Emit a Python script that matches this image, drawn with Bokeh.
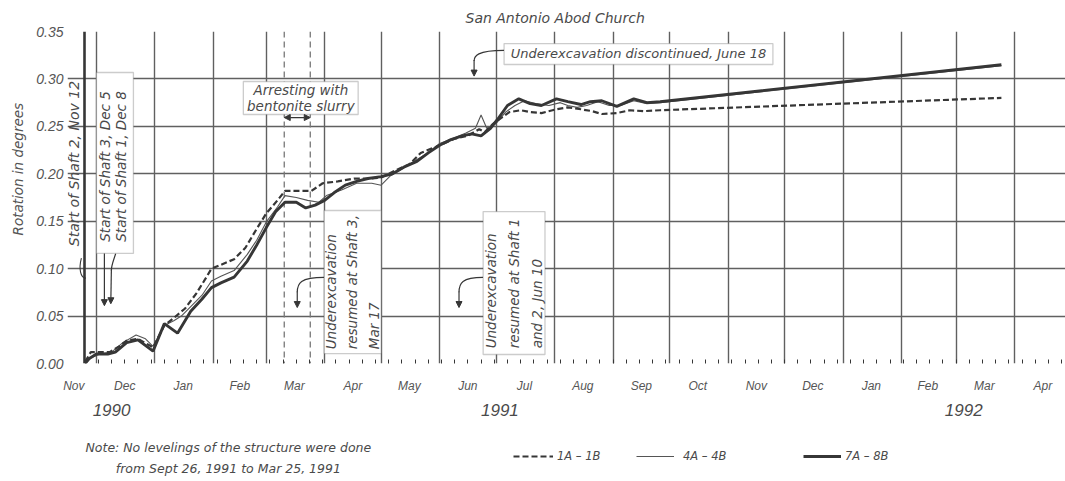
import pandas as pd
from bokeh.plotting import figure
from bokeh.layouts import column
from bokeh.models import (Range1d, FixedTicker, Label, Span, BoxAnnotation, Arrow, Grid,
                          NormalHead, NumeralTickFormatter, LinearAxis, Title, Legend,
                          LegendItem)
from bokeh.embed import file_html
from bokeh.resources import INLINE

# ---------------- data (x = days since 1 Dec 1990, y = rotation in degrees) -------------
ORIGIN = pd.Timestamp("1990-12-01")

DAY_1A1B = [-6, -3, 2, 7, 12, 16, 22, 30, 36, 41, 47, 53, 58, 61, 66, 73, 79, 85, 90, 96,
            100, 107, 114, 120, 128, 137, 145, 151, 158, 166, 172, 182, 190, 197, 203, 206,
            210, 214, 219, 225, 230, 236, 244, 250, 257, 263, 268, 276, 283, 290, 299, 480]
ROT_1A1B = [0.002, 0.012, 0.012, 0.012, 0.018, 0.024, 0.026, 0.017, 0.040, 0.048, 0.058,
            0.074, 0.090, 0.100, 0.104, 0.110, 0.122, 0.142, 0.158, 0.172, 0.182, 0.182,
            0.182, 0.190, 0.192, 0.195, 0.195, 0.196, 0.203, 0.210, 0.222, 0.230, 0.237,
            0.240, 0.247, 0.244, 0.252, 0.258, 0.265, 0.267, 0.265, 0.264, 0.268, 0.270,
            0.268, 0.266, 0.263, 0.264, 0.267, 0.266, 0.267, 0.280]

DAY_4A4B = [-6, -3, 2, 8, 14, 21, 26, 30, 36, 41, 45, 50, 56, 61, 66, 73, 80, 85, 90, 96,
            100, 106, 112, 118, 122, 130, 138, 146, 151, 156, 162, 170, 176, 182, 190, 196,
            201, 204, 207, 212, 217, 222, 227, 233, 240, 246, 250, 255, 260, 266, 272, 278,
            285, 292, 299, 480]
ROT_4A4B = [0.000, 0.006, 0.010, 0.012, 0.022, 0.030, 0.026, 0.018, 0.040, 0.045, 0.050,
            0.060, 0.072, 0.087, 0.092, 0.098, 0.115, 0.130, 0.149, 0.165, 0.177, 0.175,
            0.172, 0.170, 0.177, 0.183, 0.190, 0.190, 0.188, 0.198, 0.205, 0.215, 0.222,
            0.232, 0.238, 0.243, 0.248, 0.262, 0.248, 0.253, 0.265, 0.272, 0.277, 0.274,
            0.272, 0.275, 0.272, 0.270, 0.272, 0.276, 0.272, 0.272, 0.277, 0.274, 0.275,
            0.314]

DAY_7A8B = [-6, -4, 0, 6, 10, 16, 22, 30, 36, 43, 50, 56, 61, 66, 73, 80, 85, 90, 95, 100,
            106, 111, 116, 121, 126, 132, 138, 144, 151, 157, 163, 170, 176, 182, 188, 194,
            199, 204, 209, 213, 218, 224, 230, 236, 244, 250, 257, 262, 268, 276, 285, 292,
            299, 480]
ROT_7A8B = [0.000, 0.005, 0.010, 0.010, 0.012, 0.022, 0.025, 0.013, 0.042, 0.032, 0.055,
            0.068, 0.080, 0.085, 0.091, 0.108, 0.125, 0.143, 0.160, 0.170, 0.170, 0.164,
            0.167, 0.172, 0.180, 0.188, 0.192, 0.195, 0.197, 0.200, 0.207, 0.213, 0.222,
            0.230, 0.236, 0.240, 0.242, 0.240, 0.248, 0.258, 0.272, 0.279, 0.274, 0.272,
            0.279, 0.276, 0.273, 0.276, 0.277, 0.271, 0.279, 0.275, 0.276, 0.315]

MONTHS = ["Nov", "Dec", "Jan", "Feb", "Mar", "Apr", "May", "Jun", "Jul", "Aug", "Sep",
          "Oct", "Nov", "Dec", "Jan", "Feb", "Mar", "Apr"]
YEARS = ["1990", "1991", "1992"]
Y_TICKS = [0.00, 0.05, 0.10, 0.15, 0.20, 0.25, 0.30, 0.35]
SERIES = ["1A \u2013 1B", "4A \u2013 4B", "7A \u2013 8B"]

# ---------------- helpers --------------------------------------------------------------
starts = pd.date_range("1990-11-01", "1992-05-01", freq="MS")
start_days = [(d - ORIGIN).days for d in starts]
mid_days = [int((start_days[i] + start_days[i + 1]) // 2) for i in range(len(MONTHS))]
mid_days[0] = -12                     # first label sits just inside the left margin
X0, X1 = -6.4, 514.0                  # extent of the drawn chart area (days)

FONT = "DejaVu Sans"
LFONT = "Liberation Sans"
INK = "#363636"
TXT = "#4a4a4a"
GRID = "#606060"

W, H1, H2 = 1065, 425, 56
FLEFT = 66
p = figure(width=W, height=H1, x_range=Range1d(-15.37, X1), y_range=Range1d(0, 0.35),
           output_backend="svg", toolbar_location=None,
           min_border_left=FLEFT, min_border_right=0, min_border_top=31,
           min_border_bottom=H1 - 363)
p.background_fill_color = "white"
p.border_fill_color = "white"
p.outline_line_color = None

p.title.text = "San Antonio Abod Church"
p.title.align = "left"
p.title.offset = 398
p.title.standoff = 12
p.title.text_font = FONT
p.title.text_font_style = "italic"
p.title.text_font_size = "14px"
p.title.text_color = TXT

# y axis (labels only; frame line drawn by a bounded grid)
p.yaxis.ticker = FixedTicker(ticks=Y_TICKS)
p.yaxis.formatter = NumeralTickFormatter(format="0.00")
p.yaxis.major_tick_in = 0
p.yaxis.major_tick_out = 0
p.yaxis.minor_tick_in = 0
p.yaxis.minor_tick_out = 0
p.yaxis.axis_line_color = None
p.yaxis.major_label_standoff = 4
p.yaxis.major_label_text_font = LFONT
p.yaxis.major_label_text_font_style = "italic"
p.yaxis.major_label_text_font_size = "14px"
p.yaxis.major_label_text_color = "#555555"
p.add_layout(Title(text="Rotation in degrees", align="left", offset=128, standoff=15,
                   text_font=FONT, text_font_style="italic", text_font_size="13.5px",
                   text_color="#555555"), "left")

# x axis: month names centred in each month
p.xaxis.ticker = FixedTicker(ticks=mid_days, minor_ticks=list(range(1, 514, 7)))
p.xaxis.major_label_overrides = {mid_days[i]: MONTHS[i] for i in range(len(MONTHS))}
p.xaxis.major_tick_in = 0
p.xaxis.major_tick_out = 0
p.xaxis.minor_tick_in = 4
p.xaxis.minor_tick_out = 0
p.xaxis.minor_tick_line_color = INK
p.xaxis.axis_line_color = None
p.xaxis.major_label_standoff = 15
p.xaxis.major_label_text_font = LFONT
p.xaxis.major_label_text_font_style = "italic"
p.xaxis.major_label_text_font_size = "12px"
p.xaxis.major_label_text_color = "#555555"

year_pos = [8, 214, 460]
yax = LinearAxis(ticker=FixedTicker(ticks=year_pos),
                 major_label_overrides={d: y for d, y in zip(year_pos, YEARS)})
yax.axis_line_color = None
yax.major_tick_in = 0
yax.major_tick_out = 0
yax.minor_tick_in = 0
yax.minor_tick_out = 0
yax.major_label_standoff = 8
yax.major_label_text_font = LFONT
yax.major_label_text_font_style = "italic"
yax.major_label_text_font_size = "17px"
yax.major_label_text_color = TXT
p.add_layout(yax, "below")

# grid: month boundaries and 0.05 steps, limited to the chart area
p.xgrid.ticker = FixedTicker(ticks=start_days[1:])
p.ygrid.bounds = (X0, X1)
for g in (p.xgrid, p.ygrid):
    g.grid_line_color = GRID
    g.grid_line_width = 1.4
# frame lines (left, bottom, top)
p.add_layout(Grid(dimension=1, ticker=FixedTicker(ticks=[0.0, 0.35]), bounds=(X0, X1),
                  grid_line_color=INK, grid_line_width=2.4))
p.add_layout(Grid(dimension=0, ticker=FixedTicker(ticks=[X0]), bounds=(0, 0.35),
                  grid_line_color=INK, grid_line_width=2.6))

# dashed vertical markers (bentonite period)
for d in (99.6, 113.4):
    p.add_layout(Span(location=d, dimension="height", line_color="#777777",
                      line_dash="6 4", line_width=1.3, level="underlay"))

# ---------------- series --------------------------------------------------------------
STY = [dict(line_color=INK, line_width=2.2, line_dash="6 3"),
       dict(line_color="#555555", line_width=1.1),
       dict(line_color=INK, line_width=2.9)]
p.line(DAY_4A4B, ROT_4A4B, **STY[1])
p.line(DAY_1A1B, ROT_1A1B, **STY[0])
p.line(DAY_7A8B, ROT_7A8B, **STY[2])

# ---------------- annotation helpers --------------------------------------------------
def box(l, r, b, t):
    p.add_layout(BoxAnnotation(left=l, right=r, bottom=b, top=t, fill_color="white",
                               fill_alpha=1, line_color="#555555", line_width=1.3,
                               level="annotation"))

def txt(fig, x, y, s, size="12px", angle=0.0, align="center", lh=1.2, color=TXT):
    fig.add_layout(Label(x=x, y=y, text=s, angle=angle, text_align=align,
                         text_baseline="middle", text_font=FONT, text_font_style="italic",
                         text_font_size=size, text_color=color, text_line_height=lh))

def arrow(x0, y0, x1, y1, both=False):
    head = NormalHead(size=6, fill_color=INK, line_color=INK)
    kw = dict(start=NormalHead(size=6, fill_color=INK, line_color=INK)) if both else dict(start=None)
    p.add_layout(Arrow(end=head, x_start=x0, y_start=y0, x_end=x1, y_end=y1,
                       line_color=INK, line_width=1.2, **kw))

def hook(x0, y0, x1, y1, ytip):
    p.bezier(x0=[x0], y0=[y0], x1=[x1], y1=[y1], cx0=[x1 + 1.5], cy0=[y0],
             cx1=[x1], cy1=[y0 - 0.006], line_color=INK, line_width=1.2)
    arrow(x1, y1 + 0.001, x1, ytip)

VR = 90 * 3.141592653589793 / 180

# Start of shaft 2 (left margin of the chart area)
txt(p, -11.7, 0.2108, "Start of Shaft 2, Nov 12", size="14px", angle=VR)
p.bezier(x0=[-8.0], y0=[0.111], x1=[-5.6], y1=[0.090], cx0=[-9.5], cy0=[0.100],
         cx1=[-8.5], cy1=[0.090], line_color=INK, line_width=1.1)

# Start of shafts 3 and 1
box(0, 19.6, 0.116, 0.3068)
txt(p, 9.0, 0.2077, "Start of Shaft 3, Dec 5\nStart of Shaft 1, Dec 8", size="13.5px",
    angle=VR, lh=1.0)
arrow(4.2, 0.116, 4.2, 0.061)
p.bezier(x0=[10.2], y0=[0.116], x1=[7.9], y1=[0.098], cx0=[9.0], cy0=[0.108],
         cx1=[7.9], cy1=[0.104], line_color=INK, line_width=1.2)
arrow(7.9, 0.099, 7.6, 0.063)

# Arresting with bentonite slurry
box(77.9, 138.8, 0.2625, 0.2973)
txt(p, 108.4, 0.2799, "Arresting with\nbentonite slurry", size="13.5px", lh=1.05)
arrow(99.6, 0.2593, 113.4, 0.2593, both=True)

# Underexcavation resumed at Shaft 3
box(120.8, 151.0, 0.0105, 0.1613)
txt(p, 135.6, 0.0150, "Underexcavation\nresumed at Shaft 3,\nMar 17", size="13.5px",
    angle=VR, align="left", lh=1.35)
hook(120.8, 0.0907, 106.5, 0.075, 0.059)

# Underexcavation resumed at Shaft 1 and 2
box(205.1, 237.9, 0.0095, 0.1602)
txt(p, 221.5, 0.0160, "Underexcavation\nresumed at Shaft 1\nand 2, Jun 10", size="13.5px",
    angle=VR, align="left", lh=1.45)
hook(205.1, 0.0907, 192.3, 0.075, 0.059)

# Underexcavation discontinued
box(216.2, 358.8, 0.3152, 0.3373)
txt(p, 287.5, 0.3265, "Underexcavation discontinued, June 18", size="13px")
hook(216.2, 0.330, 200.3, 0.319, 0.303)

# ---------------- note and legend strip (x in page pixels) ------------------------------
p2 = figure(width=W, height=H2, x_range=Range1d(FLEFT, W), y_range=Range1d(0, H2),
            output_backend="svg", toolbar_location=None, x_axis_type=None,
            y_axis_type=None, min_border=0, min_border_left=FLEFT, min_border_right=0,
            min_border_top=0, min_border_bottom=0)
p2.outline_line_color = None
p2.grid.visible = False
p2.background_fill_color = "white"
p2.border_fill_color = "white"

def py(page_y):
    return H1 + H2 - page_y

txt(p2, 227, py(447), "Note: No levelings of the structure were done", size="12.5px")
txt(p2, 227, py(468), "from Sept 26, 1991 to Mar 25, 1991", size="12.5px")

proxies = [p2.line(DAY_1A1B, ROT_1A1B, visible=False, **STY[0]),
           p2.line(DAY_4A4B, ROT_4A4B, visible=False, **STY[1]),
           p2.line(DAY_7A8B, ROT_7A8B, visible=False, **STY[2])]
for r, lab, lx, gw, stand in ((proxies[0], SERIES[0], 512, 40, 4),
                              (proxies[1], SERIES[1], 635, 38, 9),
                              (proxies[2], SERIES[2], 802, 38, 4)):
    leg = Legend(items=[LegendItem(label=lab, renderers=[r])],
                 location=(lx - FLEFT, py(457) - 6),
                 orientation="horizontal", border_line_color=None, background_fill_alpha=0,
                 padding=0, margin=0, spacing=0, glyph_width=gw, glyph_height=12,
                 label_height=12, label_standoff=stand, label_text_font=FONT,
                 label_text_font_style="italic", label_text_font_size="11.5px",
                 label_text_color=TXT, inactive_fill_alpha=0)
    p2.add_layout(leg, "center")

layout = column(p, p2, spacing=0)
open("out.html", "w").write(file_html(layout, INLINE))
